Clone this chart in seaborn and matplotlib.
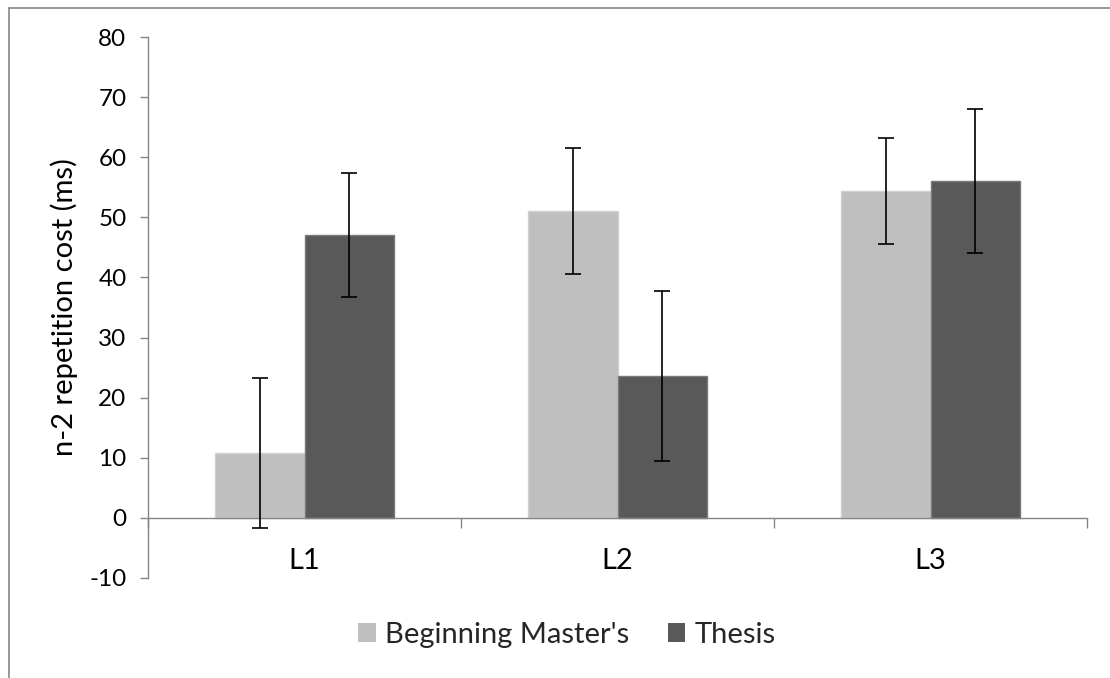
import matplotlib
matplotlib.use("Agg")
import matplotlib.pyplot as plt
from matplotlib.lines import Line2D
from matplotlib.patches import Patch
import seaborn as sns
import pandas as pd

# Data: n-2 repetition cost (ms) by language level and group
levels = ["L1", "L2", "L3"]
groups = ["Beginning Master's", "Thesis"]
beginning_cost = [10.8, 51.0, 54.4]
beginning_err = [12.4, 10.5, 8.8]
thesis_cost = [47.0, 23.6, 56.0]
thesis_err = [10.3, 14.2, 12.0]
y_ticks = [-10, 0, 10, 20, 30, 40, 50, 60, 70, 80]

colors = ["#BFBFBF", "#595959"]
edge_colors = ["#D0D0D0", "#7A7A7A"]
axis_gray = "#868686"

df = pd.DataFrame({
    "level": levels * 2,
    "group": [groups[0]] * 3 + [groups[1]] * 3,
    "cost": beginning_cost + thesis_cost,
})
errors = [beginning_err, thesis_err]

sns.set_theme(style="white")
plt.rcParams["font.family"] = ["Lato", "DejaVu Sans"]

fig = plt.figure(figsize=(11.1, 6.78), dpi=100)
ax = fig.add_axes([148 / 1110, 1 - 578 / 678, (1087 - 148) / 1110, (578 - 37) / 678])

sns.barplot(data=df, x="level", y="cost", hue="group", order=levels,
            hue_order=groups, palette=colors, width=0.57, errorbar=None,
            legend=False, ax=ax, linewidth=1.0, saturation=1)

for container, err, ec in zip(ax.containers, errors, edge_colors):
    xs = []
    ys = []
    for bar in container:
        bar.set_edgecolor(ec)
        xs.append(bar.get_x() + bar.get_width() / 2)
        ys.append(bar.get_height())
    ax.errorbar(xs, ys, yerr=err, fmt="none", ecolor="black",
                elinewidth=1.2, capsize=5.5, capthick=1.2, zorder=5)

ax.set_xlim(-0.5, len(levels) - 0.5)
ax.set_ylim(y_ticks[0], y_ticks[-1])
ax.set_yticks(y_ticks)
ax.set_yticklabels([str(t) for t in y_ticks])

# Category boundaries carry the tick marks; labels sit at the category centres
ax.set_xticks([i - 0.5 for i in range(len(levels) + 1)])
ax.set_xticklabels([])
ax.set_xticks(range(len(levels)), minor=True)
ax.set_xticklabels(levels, minor=True)
ax.tick_params(axis="x", which="major", bottom=True, direction="out",
               length=7.5, width=1.0, color=axis_gray)
ax.tick_params(axis="x", which="minor", bottom=True, length=0, pad=22,
               labelsize=21, labelcolor="black")
ax.tick_params(axis="y", left=True, direction="out", length=6, width=1.0,
               color=axis_gray, pad=9.5, labelsize=17.5, labelcolor="black")

ax.spines["top"].set_visible(False)
ax.spines["right"].set_visible(False)
ax.spines["bottom"].set_position(("data", 0))
for s in ("left", "bottom"):
    ax.spines[s].set_color(axis_gray)
    ax.spines[s].set_linewidth(1.0)

ax.set_xlabel("")
ax.set_ylabel("n-2 repetition cost (ms)", fontsize=21, color="black")
ax.yaxis.set_label_coords(-0.075, 0.5)

handles = [Patch(facecolor=c, edgecolor="none") for c in colors]
fig.legend(handles, groups, loc="center", bbox_to_anchor=(567 / 1110, 1 - 635 / 678),
           ncol=2, frameon=False, fontsize=21, handlelength=0.6,
           handleheight=0.6, handletextpad=0.33, columnspacing=1.3)

# Outer chart frame (top and left edges)
fig.add_artist(Line2D([8.5 / 1110, 8.5 / 1110], [0, 1 - 7.5 / 678],
                      transform=fig.transFigure, color=axis_gray, lw=1.2))
fig.add_artist(Line2D([8.5 / 1110, 1], [1 - 7.5 / 678, 1 - 7.5 / 678],
                      transform=fig.transFigure, color=axis_gray, lw=1.2))

fig.savefig("out.png", dpi=100, facecolor="white")
